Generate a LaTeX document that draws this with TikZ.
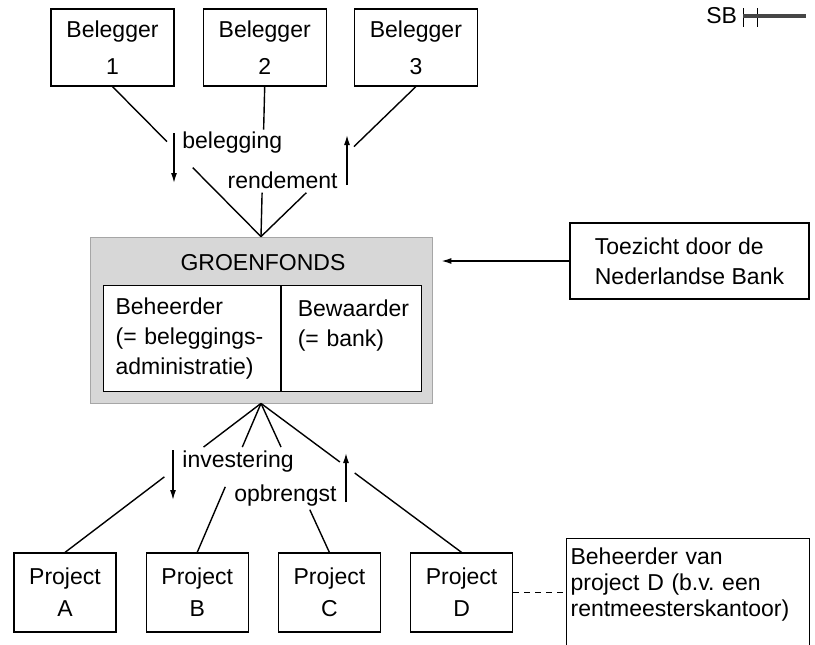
\documentclass[tikz,border=0pt]{standalone}
\usepackage{fontspec}
\setmainfont{Liberation Sans}
\usepackage{tikz}
\usetikzlibrary{arrows.meta, positioning, calc}
\definecolor{fondsgray}{RGB}{215, 215, 215}

\begin{document}
\begin{tikzpicture}[
    x=0.5pt, y=-0.5pt,
    font=\fontsize{11.5}{15}\selectfont,
    entity/.style={draw, line width=0.6pt, align=center, inner sep=0pt},
    belegger/.style={entity, minimum width=61.5pt, minimum height=38.5pt, font=\fontsize{11.5}{18.5}\selectfont},
    project/.style={entity, minimum width=51pt, minimum height=39.5pt, font=\fontsize{11.5}{16}\selectfont},
    part/.style={draw, line width=0.6pt, fill=white, align=left, minimum height=53pt, anchor=north west, inner ysep=0pt},
    link/.style={line width=0.7pt},
    arrow/.style={-{Latex[length=5pt, width=3pt]}, line width=0.7pt},
    flow/.style={inner sep=0pt}
]
    \useasboundingbox (0,0) rectangle (815,644);
    \clip (0,0) rectangle (815,644);

    % Investors
    \node[belegger] (b1) at (112.5,47.5) {Belegger\\1};
    \node[belegger, right=14pt of b1] (b2) {Belegger\\2};
    \node[belegger, right=13.5pt of b2] (b3) {Belegger\\3};

    % Fund
    \node[draw=gray!70, fill=fondsgray, line width=0.4pt, minimum width=171pt, minimum height=83pt, inner sep=0pt] (fonds) at (261,320) {};
    \node (titel) at ($(fonds.north)+(2,26)$) {GROENFONDS};
    \node[part, text width=76.5pt, inner xsep=6pt] (beheerder) at (103,285) {Beheerder\\(= beleggings-\\administratie)};
    \node[part, text width=54pt, inner xsep=8pt] (bewaarder) at (beheerder.north east) {Bewaarder\\(= bank)\\~};

    % Supervision
    \node[entity, align=left, minimum width=119.5pt, minimum height=38pt] (toezicht) at (689.5,261) {Toezicht door de\\Nederlandse Bank};

    % Projects
    \node[project] (pA) at (65,592.5) {Project\\A};
    \node[project, right=14.5pt of pA] (pB) {Project\\B};
    \node[project, right=14.5pt of pB] (pC) {Project\\C};
    \node[project, right=14.5pt of pC] (pD) {Project\\D};
    \node[draw, line width=0.6pt, align=left, anchor=north west, text width=117.5pt, inner xsep=2pt, inner ysep=4.5pt, text depth=40pt, font=\fontsize{11.5}{13}\selectfont] (beheerderD) at (566,538) {Beheerder van\\project D (b.v.\ een\\rentmeesterskantoor)};

    % Investors to fund
    \draw[link] (b1.south) -- ($(b1.south)!0.367!(fonds.north)$) ($(b1.south)!0.54!(fonds.north)$) -- (fonds.north);
    \draw[link] (b2.south) -- ($(b2.south)!0.287!(fonds.north)$) ($(b2.south)!0.707!(fonds.north)$) -- (fonds.north);
    \draw[link] (b3.south) -- ($(b3.south)!0.4!(fonds.north)$) ($(b3.south)!0.707!(fonds.north)$) -- (fonds.north);

    % Fund to projects
    \draw[link] (fonds.south) -- ($(fonds.south)!0.293!(pA.north)$) ($(fonds.south)!0.493!(pA.north)$) -- (pA.north);
    \draw[link] (fonds.south) -- ($(fonds.south)!0.293!(pB.north)$) ($(fonds.south)!0.56!(pB.north)$) -- (pB.north);
    \draw[link] (fonds.south) -- ($(fonds.south)!0.293!(pC.north)$) ($(fonds.south)!0.713!(pC.north)$) -- (pC.north);
    \draw[link] (fonds.south) -- ($(fonds.south)!0.393!(pD.north)$) ($(fonds.south)!0.467!(pD.north)$) -- (pD.north);

    % Flows
    \coordinate (beleg) at (174,133);
    \draw[arrow] (beleg) -- ++(0,50);
    \node[flow, anchor=west] (belegging) at (182,143) {belegging};
    \coordinate (rend) at (347,185);
    \draw[arrow] (rend) -- ++(0,-50);
    \node[flow, anchor=east] (rendement) at (338,180) {rendement};

    \coordinate (inv) at (173,450);
    \draw[arrow] (inv) -- ++(0,50);
    \node[flow, anchor=west] (investering) at (182,462) {investering};
    \coordinate (opb) at (346,502);
    \draw[arrow] (opb) -- ++(0,-49);
    \node[flow, anchor=east] (opbrengst) at (337,496) {opbrengst};

    % Supervision and management
    \draw[arrow, shorten >=4.5pt] (toezicht.west) -- (toezicht.west -| fonds.east);
    \draw[link, dash pattern=on 3pt off 2.5pt] (pD.east) -- (pD.east -| beheerderD.west);

    % Logo
    \node[flow, anchor=west, font=\fontsize{11.5}{11.5}\selectfont] (sb) at (706,16) {SB};
    \draw[line width=0.5pt] (743,8) -- (743,27) (757,8) -- (757,27);
    \draw[line width=2pt, gray!55!black] (743,15.5) -- (806,15.5);
\end{tikzpicture}
\end{document}
